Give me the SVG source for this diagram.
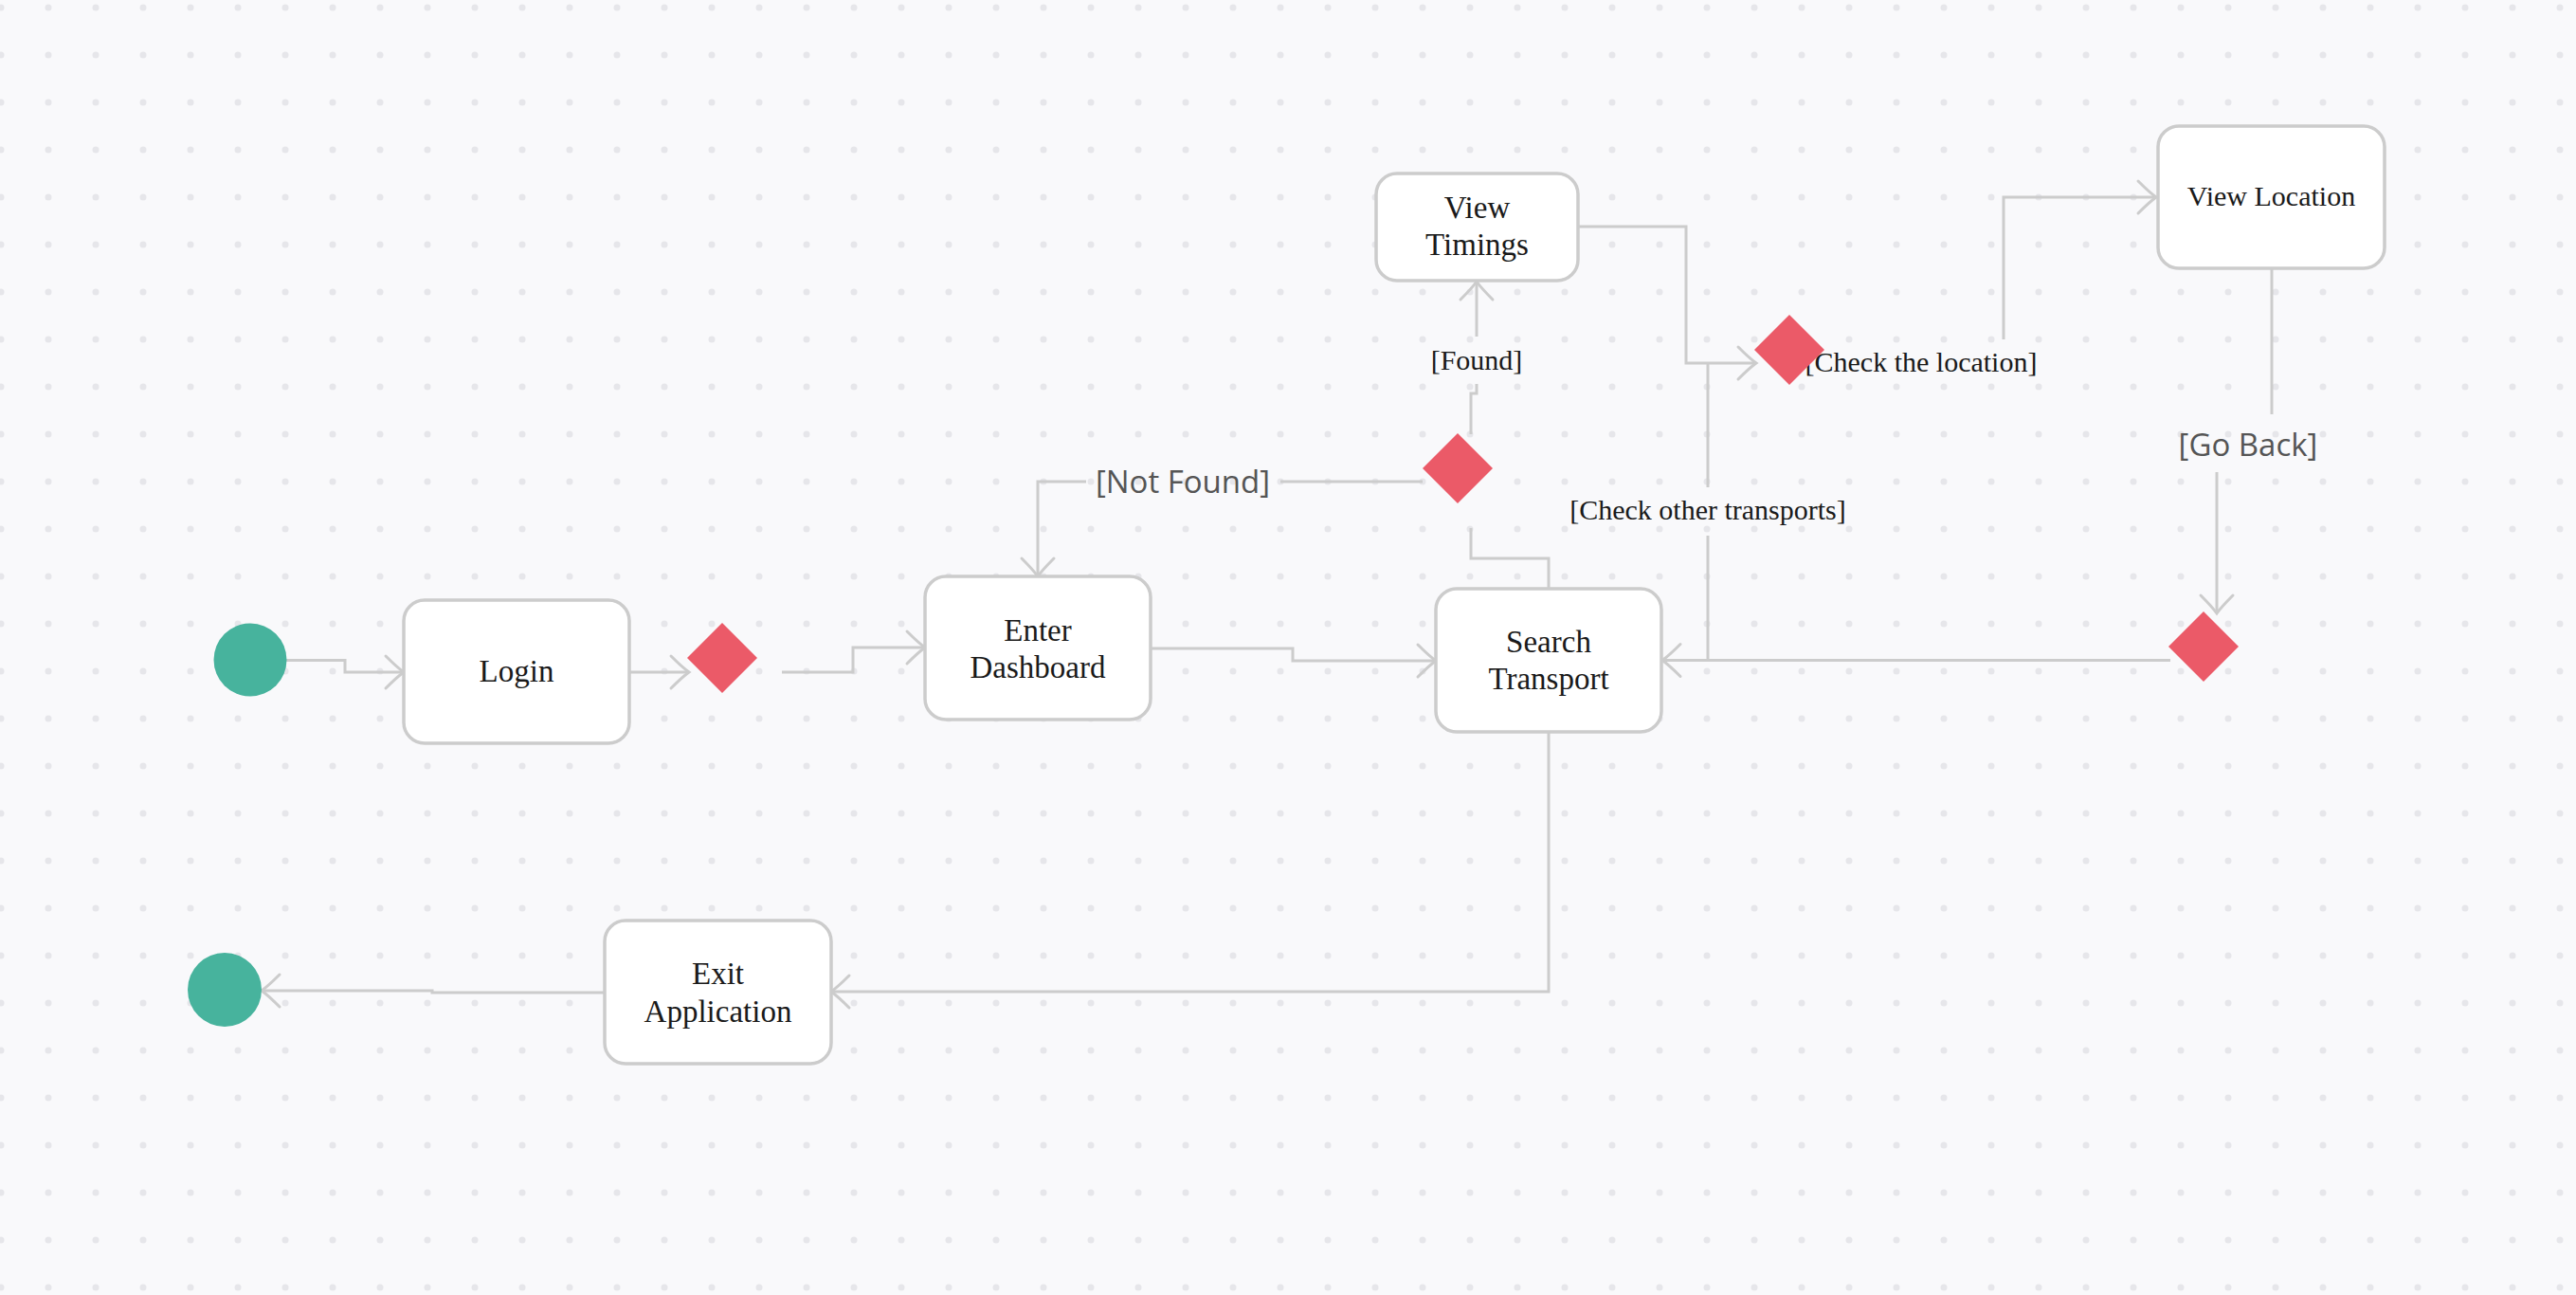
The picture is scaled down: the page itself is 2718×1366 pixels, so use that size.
<svg xmlns="http://www.w3.org/2000/svg" width="2718" height="1366" viewBox="0 0 2718 1366">
<defs>
<pattern id="dots" x="-24" y="-17" width="50" height="50" patternUnits="userSpaceOnUse">
<circle cx="25" cy="25" r="3.5" fill="#e6e6ea"/>
</pattern>
<marker id="arr" markerUnits="userSpaceOnUse" viewBox="-22 -20 24 40" refX="0" refY="0" markerWidth="24" markerHeight="40" orient="auto" overflow="visible">
<path d="M-19,-17 Q-7,-5 0,0 Q-7,5 -19,17" fill="none" stroke="#cccccc" stroke-width="3" stroke-linecap="round"/>
</marker>
<style>
.node rect{fill:#ffffff;stroke:#cccccc;stroke-width:3.5}
.nt{font-family:"Liberation Serif","Times New Roman",serif;font-size:33px;fill:#1a1a1a;text-anchor:middle}
.dec{fill:#eb5a68}
.term{fill:#47b39d}
.conn path{fill:none;stroke:#cccccc;stroke-width:3}
.lbl{font-family:"Liberation Serif","Times New Roman",serif;font-size:30px;fill:#1a1a1a;text-anchor:middle}
.lbls{font-family:"Open Sans","Noto Sans",sans-serif;font-size:33px;fill:#555555;text-anchor:middle}
</style>
</defs>
<rect width="2718" height="1366" fill="#f9f9fb"/>
<rect width="2718" height="1366" fill="url(#dots)"/>

<g id="connectors" class="conn">
<path d="M302,696.5 H364 V709 H426" marker-end="url(#arr)"/>
<path d="M664,709 H727" marker-end="url(#arr)"/>
<path d="M825,709 H900 V683 H976" marker-end="url(#arr)"/>
<path d="M1214,684 H1364 V697 H1515" marker-end="url(#arr)"/>
<path d="M1634,621 V589 H1552 V557"/>
<path d="M1552,458 V415 H1558 V405"/>
<path d="M1558,355 V297" marker-end="url(#arr)"/>
<path d="M1501,508 H1351"/>
<path d="M1146,508 H1095 V608" marker-end="url(#arr)"/>
<path d="M1665,239 H1779 V383 H1853" marker-end="url(#arr)"/>
<path d="M2114,358 V208 H2275" marker-end="url(#arr)"/>
<path d="M2397,283 V437"/>
<path d="M2339,498 V647" marker-end="url(#arr)"/>
<path d="M2290,696.5 H1754" marker-end="url(#arr)"/>
<path d="M1802,383 V514"/>
<path d="M1802,565 V697"/>
<path d="M1634,772 V1046 H877" marker-end="url(#arr)"/>
<path d="M638,1047 H456 V1045 H276" marker-end="url(#arr)"/>
<text class="lbl" x="1558" y="390">[Found]</text>
<text class="lbls" x="1248" y="520">[Not Found]</text>
<text class="lbl" x="2027" y="392">[Check the location]</text>
<text class="lbl" x="1802" y="548">[Check other transports]</text>
<text class="lbls" x="2372" y="481">[Go Back]</text>
</g>

<g id="start"><circle class="term" cx="264" cy="696" r="38.5"/></g>
<g id="login" class="node"><rect x="426" y="633" width="238" height="151" rx="22"/><text class="nt" x="545" y="719">Login</text></g>
<g id="decision1"><polygon class="dec" points="762,657 799,694 762,731 725,694"/></g>
<g id="enter-dashboard" class="node"><rect x="976" y="608" width="238" height="151" rx="22"/><text class="nt" x="1095" y="676">Enter</text><text class="nt" x="1095" y="715">Dashboard</text></g>
<g id="search-transport" class="node"><rect x="1515" y="621" width="238" height="151" rx="22"/><text class="nt" x="1634" y="688">Search</text><text class="nt" x="1634" y="727">Transport</text></g>
<g id="decision2"><polygon class="dec" points="1538,457 1575,494 1538,531 1501,494"/></g>
<g id="view-timings" class="node"><rect x="1452" y="183" width="213" height="113" rx="22"/><text class="nt" x="1558.5" y="230">View</text><text class="nt" x="1558.5" y="269">Timings</text></g>
<g id="decision3"><polygon class="dec" points="1888,332 1925,369 1888,406 1851,369"/></g>
<g id="view-location" class="node"><rect x="2277" y="133" width="239" height="150" rx="22"/><text class="nt" x="2396.5" y="217" style="font-size:30px">View Location</text></g>
<g id="decision4"><polygon class="dec" points="2325,645 2362,682 2325,719 2288,682"/></g>
<g id="exit-application" class="node"><rect x="638" y="971" width="239" height="151" rx="22"/><text class="nt" x="757.5" y="1038">Exit</text><text class="nt" x="757.5" y="1078">Application</text></g>
<g id="end"><circle class="term" cx="237" cy="1044" r="39"/></g>
</svg>
